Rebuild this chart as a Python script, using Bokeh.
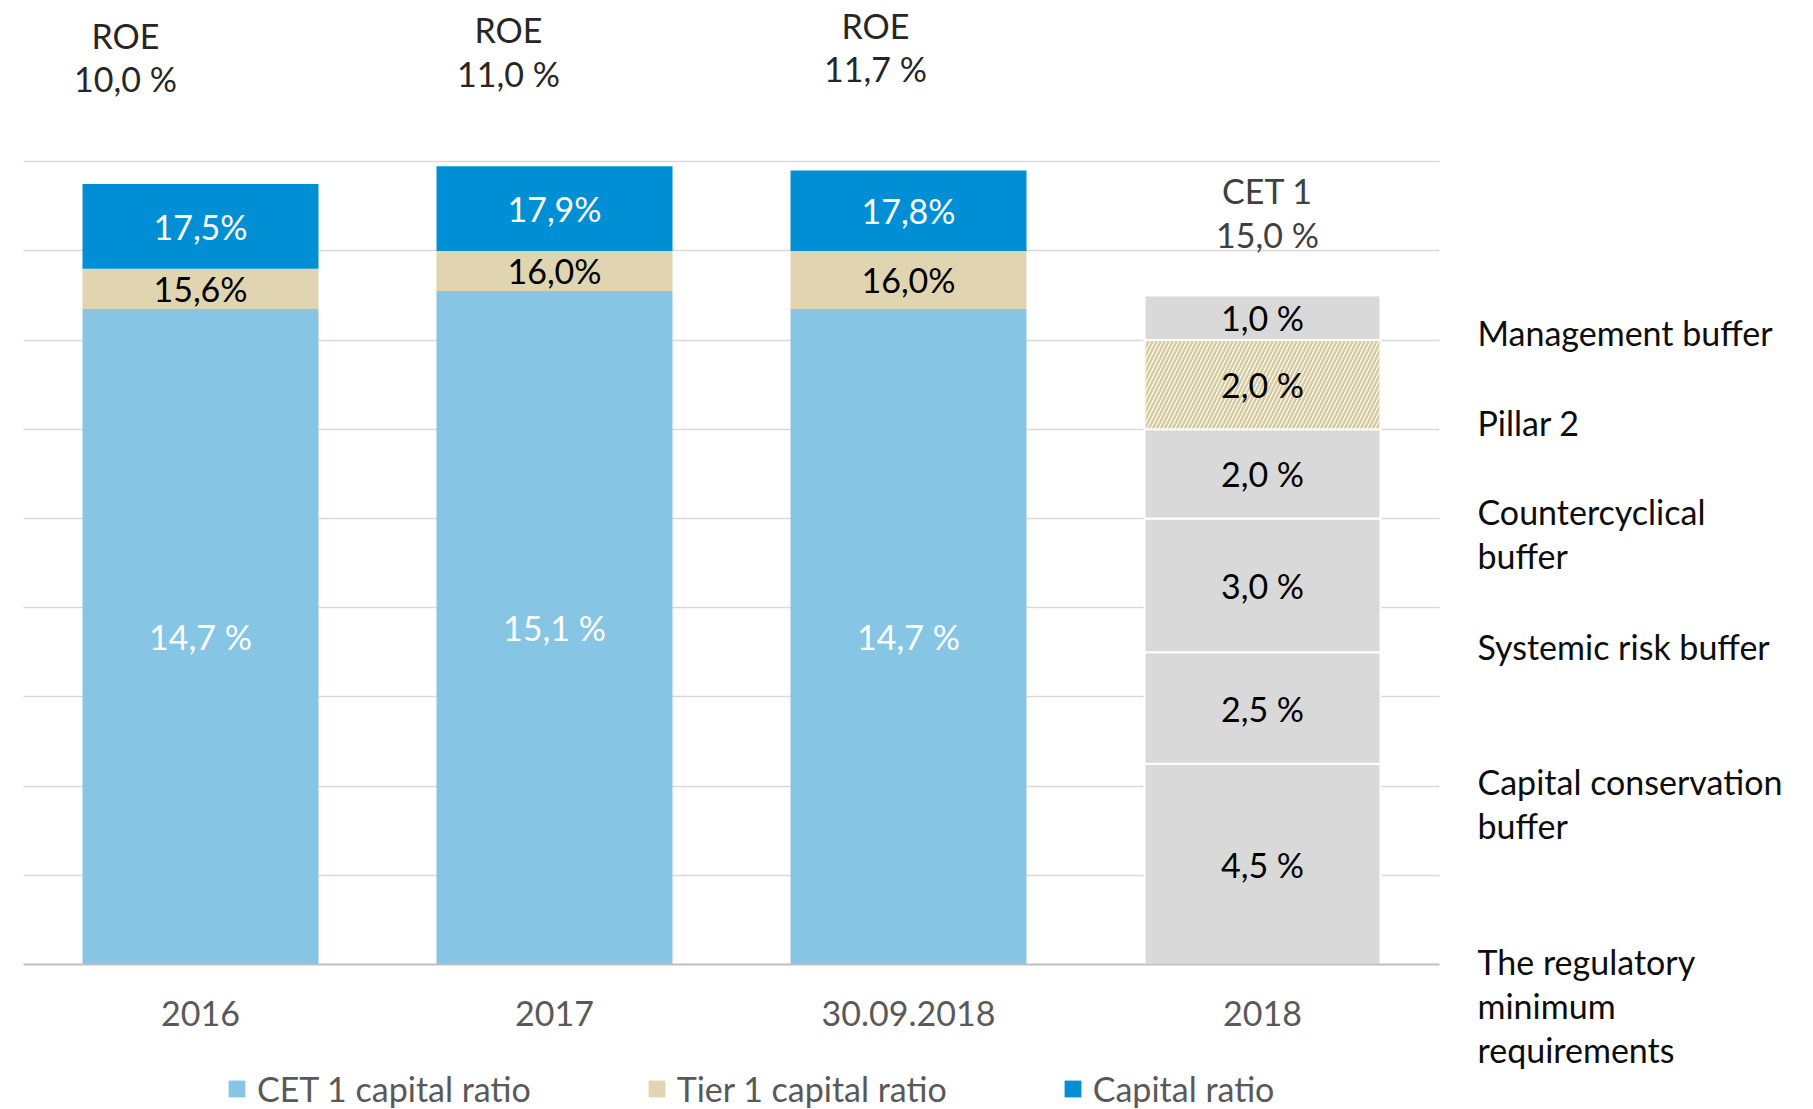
import numpy as np
from bokeh.plotting import figure
from bokeh.models import ColumnDataSource, Range1d, FixedTicker, Legend, LegendItem
from bokeh.core.properties import value
from bokeh.embed import file_html
from bokeh.resources import INLINE

# ---------------- data ----------------
categories = ["2016", "2017", "30.09.2018", "2018"]
cet1_ratio = [14.7, 15.1, 14.7]
tier1_ratio = [15.6, 16.0, 16.0]
capital_ratio = [17.5, 17.9, 17.8]
roe = [10.0, 11.0, 11.7]
req_names = ["The regulatory\nminimum\nrequirements", "Capital conservation\nbuffer",
             "Systemic risk buffer", "Countercyclical\nbuffer", "Pillar 2", "Management buffer"]
req_values = [4.5, 2.5, 3.0, 2.0, 2.0, 1.0]
req_hatched = [False, False, False, False, True, False]
y_ticks = [2, 4, 6, 8, 10, 12, 14, 16, 18]

# ---------------- layout / style ----------------
W, H = 1813, 1109
CAT_PX, UNIT_PX, X0_PX, BASE_PX = 354.0, 44.6, 23.0, 964.0
FONT = value("Lato")
FS = value("34px")
C_CET1, C_TIER1, C_CAP, C_REQ = "#87C5E5", "#E0D5B0", "#008FD4", "#D9D9D9"
BAR_W = 236 / CAT_PX
LH = 1.08

def pct(v, space=True):
    return f"{v:.1f}".replace(".", ",") + (" %" if space else "%")

def py(page_y):  # pixel row -> data y
    return (BASE_PX - page_y) / UNIT_PX

p = figure(width=W, height=H, output_backend="svg", toolbar_location=None,
           x_range=Range1d(-X0_PX / CAT_PX, (W - X0_PX) / CAT_PX),
           y_range=Range1d(-(H - BASE_PX) / UNIT_PX, BASE_PX / UNIT_PX),
           min_border=0, outline_line_color=None)

xs = [i + 0.5 for i in range(len(categories))]

# grid
p.yaxis.visible = False
p.xgrid.visible = False
p.ygrid.ticker = FixedTicker(ticks=y_ticks)
p.ygrid.grid_line_color = "#D9D9D9"
p.ygrid.grid_line_width = 1.5
p.ygrid.cross_bounds = (0, len(categories))

# x axis at y = 0
ax = p.xaxis[0]
ax.fixed_location = 0
ax.bounds = (0, len(categories))
ax.ticker = FixedTicker(ticks=xs)
ax.major_label_overrides = {x: c for x, c in zip(xs, categories)}
ax.axis_line_color = "#BFBFBF"
ax.axis_line_width = 2
ax.major_tick_line_color = None
ax.minor_tick_line_color = None
ax.major_tick_out = 0
ax.major_tick_in = 0
ax.major_label_standoff = 36
ax.major_label_text_font = "Lato"
ax.major_label_text_font_size = "34px"
ax.major_label_text_color = "#595959"

# ---------------- stacked bars (actual ratios) ----------------
n = len(cet1_ratio)
src = ColumnDataSource(dict(
    x=xs[:n], cet1=cet1_ratio, tier1=tier1_ratio, cap=capital_ratio,
    zero=[0] * n,
))
r_cet1 = p.vbar(x="x", width=BAR_W, bottom="zero", top="cet1", source=src,
                fill_color=C_CET1, line_color=None)
r_tier1 = p.vbar(x="x", width=BAR_W, bottom="cet1", top="tier1", source=src,
                 fill_color=C_TIER1, line_color=None)
r_cap = p.vbar(x="x", width=BAR_W, bottom="tier1", top="cap", source=src,
               fill_color=C_CAP, line_color=None)

lab = ColumnDataSource(dict(
    x=xs[:n],
    y_cet1=[v / 2 for v in cet1_ratio],
    y_tier1=[(a + b) / 2 for a, b in zip(cet1_ratio, tier1_ratio)],
    y_cap=[(a + b) / 2 for a, b in zip(tier1_ratio, capital_ratio)],
    t_cet1=[pct(v) for v in cet1_ratio],
    t_tier1=[pct(v, False) for v in tier1_ratio],
    t_cap=[pct(v, False) for v in capital_ratio],
))
for ycol, tcol, col in [("y_cet1", "t_cet1", "white"), ("y_tier1", "t_tier1", "#000000"),
                        ("y_cap", "t_cap", "white")]:
    p.text(x="x", y=ycol, text=tcol, source=lab, text_font=FONT, text_font_size=FS,
           text_color=col, text_align="center", text_baseline="middle")

# ---------------- requirement bar (2018) ----------------
tops = np.cumsum(req_values)
bots = tops - np.array(req_values)
req = dict(x=[xs[3]] * len(req_values), bottom=list(bots), top=list(tops),
           mid=list((bots + tops) / 2), txt=[pct(v) for v in req_values])
plain = ColumnDataSource({k: [v for v, h in zip(vals, req_hatched) if not h] for k, vals in req.items()})
hatch = ColumnDataSource({k: [v for v, h in zip(vals, req_hatched) if h] for k, vals in req.items()})
p.vbar(x="x", width=BAR_W, bottom="bottom", top="top", source=plain,
       fill_color=C_REQ, line_color="white", line_width=2)
p.vbar(x="x", width=BAR_W, bottom="bottom", top="top", source=hatch,
       fill_color="white", line_color="white", line_width=2,
       hatch_pattern="/", hatch_color="#D9CA9C", hatch_scale=8, hatch_weight=2.5)
p.text(x="x", y="mid", text="txt", source=ColumnDataSource(req), text_font=FONT,
       text_font_size=FS, text_color="#000000", text_align="center", text_baseline="middle")

# CET 1 requirement total
p.text(x=[xs[3] + 5 / CAT_PX], y=[py(212)], text=["CET 1\n" + pct(sum(req_values))],
       text_font=FONT, text_font_size=FS, text_color="#404040", text_align="center",
       text_baseline="middle", text_line_height=LH)

# requirement names on the right
name_y_page = [1005, 803, 646, 533, 422, 332]
p.text(x=[(1477 - X0_PX) / CAT_PX] * len(req_names), y=[py(v) for v in name_y_page],
       text=req_names, text_font=FONT, text_font_size=FS, text_color="#0D0D0D",
       text_align="left", text_baseline="middle", text_line_height=LH)

# ROE labels above bars
roe_dx = [-75 / CAT_PX, -46 / CAT_PX, -33 / CAT_PX]
roe_src = ColumnDataSource(dict(
    x=[x + d for x, d in zip(xs[:n], roe_dx)],
    y1=[py(v) for v in [35, 29, 25]],
    y2=[py(v) for v in [78, 73, 68]],
    t1=["ROE"] * n,
    t2=[pct(v) for v in roe],
))
p.text(x="x", y="y1", text="t1", source=roe_src, text_font=FONT, text_font_size=FS,
       text_color="#262626", text_align="center", text_baseline="middle")
p.text(x="x", y="y2", text="t2", source=roe_src, text_font=FONT, text_font_size=FS,
       text_color="#262626", text_align="center", text_baseline="middle")

# legend
legend = Legend(items=[LegendItem(label="CET 1 capital ratio", renderers=[r_cet1]),
                       LegendItem(label="Tier 1 capital ratio", renderers=[r_tier1]),
                       LegendItem(label="Capital ratio", renderers=[r_cap])],
                orientation="horizontal", location=(226, 0),
                glyph_width=21, glyph_height=21, label_standoff=10, spacing=115,
                padding=0, margin=0, border_line_color=None, background_fill_alpha=0,
                label_text_font="Lato", label_text_font_size="34px",
                label_text_color="#595959")
p.add_layout(legend, "center")

open("out.html", "w").write(file_html(p, INLINE))
